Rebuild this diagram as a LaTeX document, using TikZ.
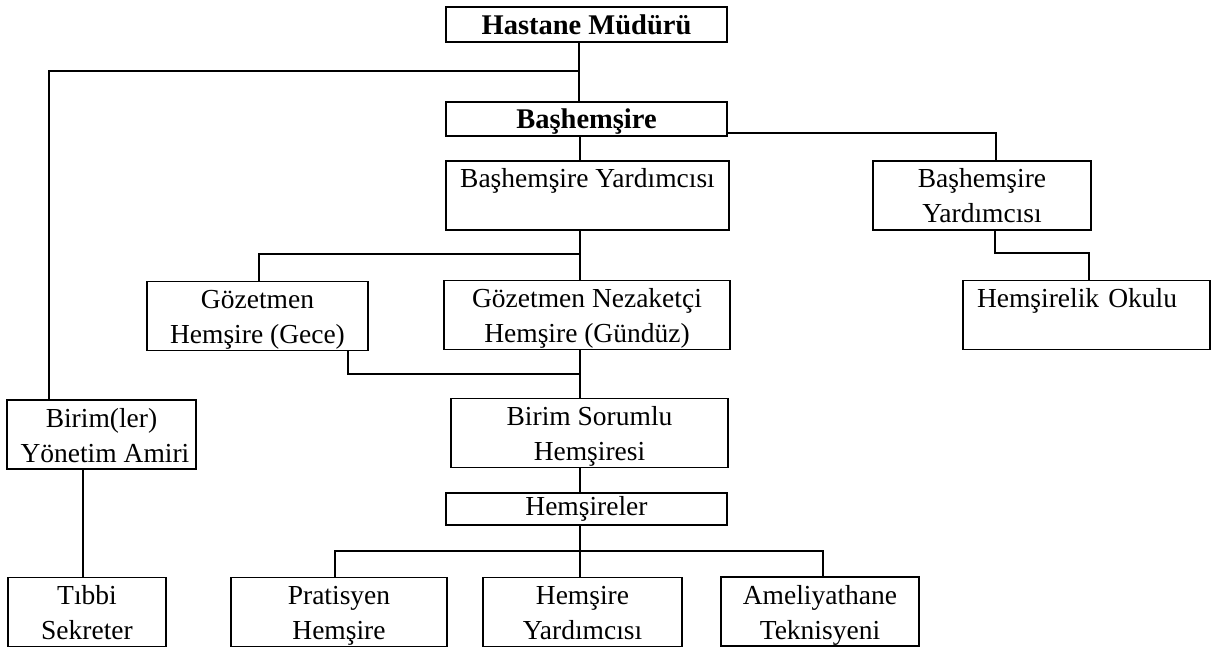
\documentclass[tikz,border=0pt]{standalone}
\usepackage{fontspec}
\setmainfont{Liberation Serif}
\newcommand{\stT}{\rule[-7pt]{0pt}{34pt}}
\tikzset{
  box/.style={draw=black, line width=1.7pt, inner sep=0pt, align=center,
    font=\fontsize{27.5}{32}\selectfont},
  bbox/.style={box, font=\fontsize{28.5}{32}\selectfont\bfseries},
  conn/.style={draw=black, line width=1.7pt},
}
\begin{document}
\begin{tikzpicture}[x=1pt,y=-1pt]
\useasboundingbox (0,0) rectangle (1211,647);
% boxes
\node[bbox, minimum width=281pt, minimum height=35pt] (HM) at (586.5,24.5) {\stT Hastane Müdürü};
\node[bbox, minimum width=281pt, minimum height=34pt] (BH) at (586.5,119) {\stT Başhemşire};
\node[box, minimum width=283pt, minimum height=67pt] (BY1) at (587.5,195.5) {\stT Başhemşire Yardımcısı\\\stT};
\node[box, minimum width=218pt, minimum height=67pt] (BY2) at (982,195.5) {\stT Başhemşire\\\stT Yardımcısı};
\node[box, minimum width=247pt, minimum height=66pt, align=left, text width=219pt, inner xsep=14pt] (HO) at (1086.5,315) {\stT Hemşirelik Okulu\\\stT};
\node[box, minimum width=221pt, minimum height=66pt] (GG) at (257.5,316) {\stT Gözetmen\\\stT Hemşire (Gece)};
\node[box, minimum width=286pt, minimum height=66pt] (GN) at (587,315) {\stT Gözetmen Nezaketçi\\\stT Hemşire (Gündüz)};
\node[box, minimum width=189pt, minimum height=67pt] (BA) at (101.5,434.5) {\stT Birim(ler)\\\stT\ Yönetim Amiri};
\node[box, minimum width=277pt, minimum height=66pt] (BS) at (589.5,433) {\stT Birim Sorumlu\\\stT Hemşiresi};
\node[box, minimum width=281pt, minimum height=32pt] (HE) at (586.5,509) {Hemşireler};
\node[box, minimum width=158pt, minimum height=66pt] (TS) at (87,612) {\stT Tıbbi\\\stT Sekreter};
\node[box, minimum width=216pt, minimum height=66pt] (PH) at (339,612) {\stT Pratisyen\\\stT Hemşire};
\node[box, minimum width=199pt, minimum height=66pt] (HY) at (582.5,612) {\stT Hemşire\\\stT Yardımcısı};
\node[box, minimum width=198pt, minimum height=67pt] (AT) at (820,611.5) {\stT Ameliyathane\\\stT Teknisyeni};
% junction coordinates
\coordinate (j1) at (579,71);
\coordinate (j2) at (580,254);
\coordinate (j3) at (580,374);
\coordinate (j4) at (1089,253);
\coordinate (j5L) at (335,551);
\coordinate (j5R) at (823,551);
% connectors
\draw[conn] (HM.south -| j1) -- (BH.north -| j1);
\draw[conn] (j1) -| (49,0 |- BA.north);
\draw[conn] (BH.south -| j2) -- (BY1.north -| j2);
\draw[conn] (BH.east |- 0,133) -| (996,0 |- BY2.north);
\draw[conn] (BY1.south -| j2) -- (GN.north -| j2);
\draw[conn] (j2) -| (259,0 |- GG.north);
\draw[conn] (348,0 |- GG.south) |- (j3);
\draw[conn] (GN.south -| j3) -- (BS.north -| j3);
\draw[conn] (995,0 |- BY2.south) |- (j4) -- (HO.north -| j4);
\draw[conn] (83,0 |- BA.south) -- (83,0 |- TS.north);
\draw[conn] (BS.south -| j3) -- (HE.north -| j3);
\draw[conn] (HE.south -| j3) -- (HY.north -| j3);
\draw[conn] (PH.north -| j5L) |- (j5R) -- (AT.north -| j5R);
\end{tikzpicture}
\end{document}
